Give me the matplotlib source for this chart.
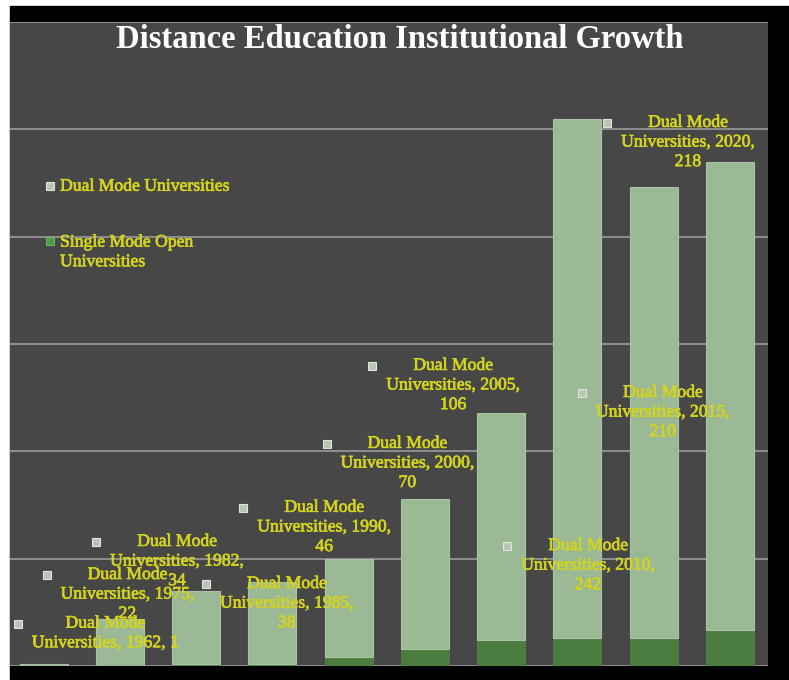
import numpy as np
import matplotlib
matplotlib.use('Agg')
import matplotlib.pyplot as plt
import matplotlib.patheffects as pe
from matplotlib.patches import Rectangle

years = ['1962', '1975', '1982', '1985', '1990', '2000', '2005', '2010', '2015', '2020']
dual_mode = [1, 22, 34, 38, 46, 70, 106, 242, 210, 218]
single_mode = [0, 0, 1, 1, 4, 8, 12, 13, 13, 17]

# where the (hand dragged) data labels sit, in data coords
label_pos = [(0.81, 15.4), (1.10, 33.5), (1.75, 48.9), (3.19, 29.3), (3.68, 64.8),
             (4.77, 94.6), (5.37, 130.9), (7.14, 47.0), (8.12, 118.3), (8.45, 244.1)]

W, H = 789, 680
YELLOW = '#d4d41e'
LIGHT = '#9bb995'
DARK = '#4b7d3e'
FONT = 'Liberation Serif'
thick = [pe.withStroke(linewidth=0.5, foreground=YELLOW)]

fig = plt.figure(figsize=(W / 100, H / 100), dpi=100, facecolor='white')
fig.patches.append(Rectangle((10 / W, 0), 779 / W, 674 / H, transform=fig.transFigure,
                             color='black', zorder=-5))
ax = fig.add_axes([10 / W, 14 / H, 758 / W, 644 / H], zorder=2)
ax.set_facecolor('#474747')

x = np.arange(len(years))
ax.bar(x, single_mode, width=0.63, color=DARK, edgecolor='#557f48', lw=0.6, zorder=2)
ax.bar(x, dual_mode, bottom=single_mode, width=0.63, color=LIGHT, edgecolor='#a9c4a4',
       lw=0.8, zorder=2)

ax.set_xlim(-0.44, 9.5)
ax.set_ylim(0, 300)
ax.set_yticks(range(0, 301, 50))
ax.set_xticks([])
ax.grid(axis='y', color='#8e8e8e', lw=1.4)
ax.set_axisbelow(True)
ax.tick_params(length=0, labelleft=False, labelbottom=False)
for s in ax.spines.values():
    s.set_visible(False)

# data labels
texts = []
for i, (lx, ly) in enumerate(label_pos):
    if dual_mode[i] < 10:
        s = f'Dual Mode\nUniversities, {years[i]}, {dual_mode[i]}'
    else:
        s = f'Dual Mode\nUniversities, {years[i]},\n{dual_mode[i]}'
    t = ax.text(lx, ly, s, ha='center', va='center', multialignment='center',
                color=YELLOW, fontsize=12.7, family=FONT, zorder=4, path_effects=thick)
    texts.append(t)

fig.canvas.draw()
inv = ax.transData.inverted()
for t in texts:
    bb = t.get_window_extent()
    mx, my = inv.transform((bb.x0 - 14, bb.y1 - 9))
    ax.plot(mx, my, marker='s', ms=5.5, mfc='#b9c6b5', mec='#dfe6dc', mew=0.8,
            clip_on=False, zorder=5)

# legend, drawn by hand like the original
ax.plot(0.0528, 0.745, marker='s', ms=5.5, mfc='#b9c6b5', mec='#dfe6dc', mew=0.8,
        transform=ax.transAxes, clip_on=False, zorder=5)
ax.text(0.066, 0.745, 'Dual Mode Universities', transform=ax.transAxes, ha='left',
        va='center', color=YELLOW, fontsize=12.7, family=FONT, path_effects=thick)
ax.plot(0.0528, 0.660, marker='s', ms=5.5, mfc='#4f9a45', mec='#6fb564', mew=0.8,
        transform=ax.transAxes, clip_on=False, zorder=5)
ax.text(0.066, 0.643, 'Single Mode Open\nUniversities', transform=ax.transAxes, ha='left',
        va='center', color=YELLOW, fontsize=12.7, family=FONT, path_effects=thick)

fig.text(400 / W, 1 - 40 / H, 'Distance Education Institutional Growth', ha='center',
         va='center', color='white', fontsize=23.5, fontweight='bold', family=FONT,
         zorder=10)

fig.savefig('out.png', dpi=100)
